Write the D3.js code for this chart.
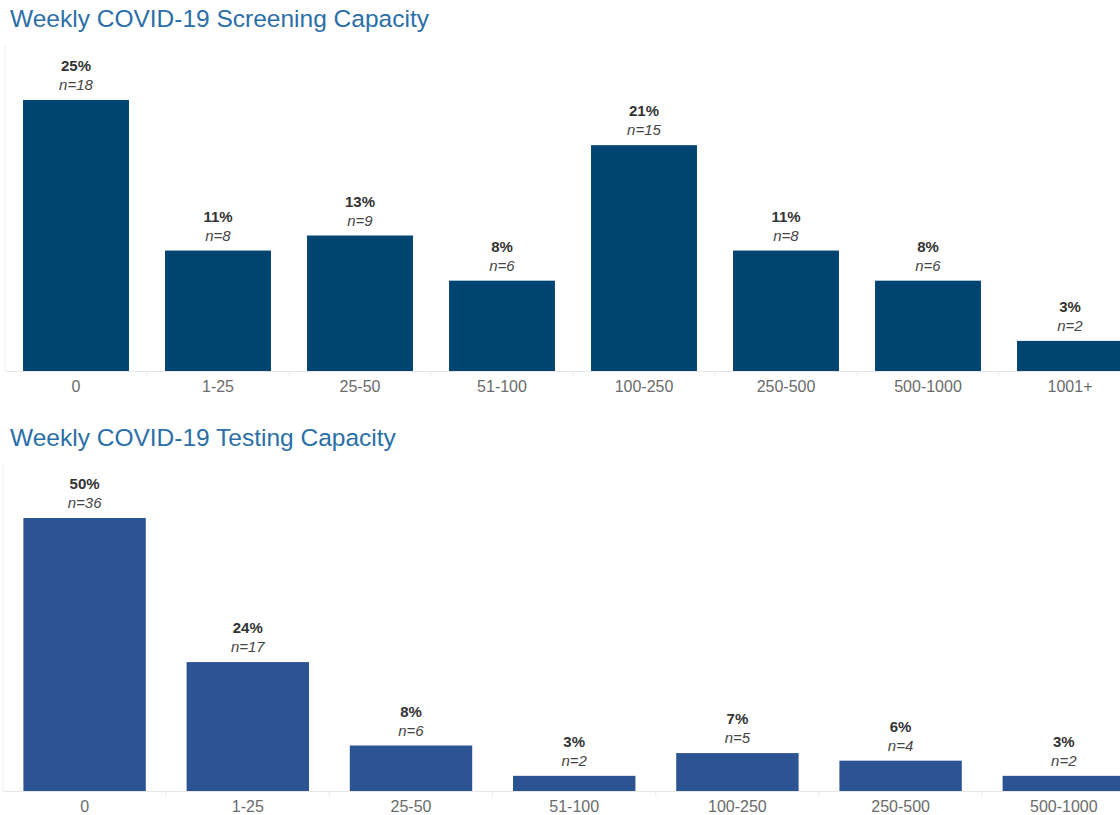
<!DOCTYPE html>
<html>
<head>
<meta charset="utf-8">
<script src="https://cdn.jsdelivr.net/npm/d3@7"></script>
<style>
  body { margin: 0; background: #fff; }
  svg { display: block; font-family: "Liberation Sans", Arial, sans-serif; }
</style>
</head>
<body>
<div id="chart"></div>
<script>
const screenCats = ['0', '1-25', '25-50', '51-100', '100-250', '250-500', '500-1000', '1001+']
const screenPct = [25, 11, 13, 8, 21, 11, 8, 3]
const screenN = [18, 8, 9, 6, 15, 8, 6, 2]

const testCats = ['0', '1-25', '25-50', '51-100', '100-250', '250-500', '500-1000']
const testPct = [50, 24, 8, 3, 7, 6, 3]
const testN = [36, 17, 6, 2, 5, 4, 2]

const width = 1120
const height = 815

const svg = d3.select('#chart')
    .append('svg')
    .attr('width', width)
    .attr('height', height)

const drawPanel = (cfg) => {
    const data = cfg.cats.map((c, i) => ({ cat: c, pct: cfg.pct[i], n: cfg.n[i] }))

    const g = svg.append('g')

    g.append('text')
        .attr('x', 10)
        .attr('y', cfg.titleY)
        .attr('fill', '#2b6fa8')
        .style('font-size', '24.5px')
        .text(cfg.title)

    const x = d3.scaleBand()
        .domain(cfg.cats)
        .range([cfg.x0, cfg.x0 + cfg.step * cfg.cats.length])
        .paddingInner(cfg.pad)
        .paddingOuter(cfg.pad / 2)

    const y = d3.scaleLinear()
        .domain([0, cfg.nMax])
        .range([cfg.base, cfg.top])

    // faint left axis line
    g.append('line')
        .attr('x1', cfg.x0).attr('x2', cfg.x0)
        .attr('y1', cfg.axisTop).attr('y2', cfg.base)
        .attr('stroke', '#eeeeee')

    const axis = g.append('g')
        .attr('transform', `translate(0,${cfg.base})`)
        .call(d3.axisBottom(x).tickSize(0).tickPadding(10))
    axis.select('.domain').attr('stroke', '#e6e6e6')
    axis.selectAll('text')
        .attr('fill', '#6b6b6b')
        .style('font-size', '16px')
        .style('font-family', '"Liberation Sans", Arial, sans-serif')

    // separators between categories
    g.selectAll('.sep')
        .data(cfg.cats.slice(1))
        .join('line')
        .attr('x1', (d) => x(d) - x.step() * x.paddingInner() / 2)
        .attr('x2', (d) => x(d) - x.step() * x.paddingInner() / 2)
        .attr('y1', cfg.base)
        .attr('y2', cfg.base + 5)
        .attr('stroke', '#e6e6e6')

    g.selectAll('rect')
        .data(data)
        .join('rect')
        .attr('x', (d) => x(d.cat))
        .attr('width', x.bandwidth())
        .attr('y', (d) => y(d.n))
        .attr('height', (d) => cfg.base - y(d.n))
        .attr('fill', cfg.color)

    g.selectAll('.pct')
        .data(data)
        .join('text')
        .attr('x', (d) => x(d.cat) + x.bandwidth() / 2)
        .attr('y', (d) => y(d.n) - 29)
        .attr('text-anchor', 'middle')
        .attr('fill', '#333')
        .style('font-size', '15px')
        .style('font-weight', 'bold')
        .text((d) => d.pct + '%')

    g.selectAll('.nlab')
        .data(data)
        .join('text')
        .attr('x', (d) => x(d.cat) + x.bandwidth() / 2)
        .attr('y', (d) => y(d.n) - 10)
        .attr('text-anchor', 'middle')
        .attr('fill', '#444')
        .style('font-size', '15px')
        .style('font-style', 'italic')
        .text((d) => 'n=' + d.n)
}

drawPanel({
    title: 'Weekly COVID-19 Screening Capacity',
    titleY: 27,
    cats: screenCats, pct: screenPct, n: screenN,
    x0: 5, step: 142, pad: 0.254,
    nMax: 18, base: 371, top: 100, axisTop: 45,
    color: '#004571'
})

drawPanel({
    title: 'Weekly COVID-19 Testing Capacity',
    titleY: 446,
    cats: testCats, pct: testPct, n: testN,
    x0: 3, step: 163.2, pad: 0.25,
    nMax: 36, base: 791, top: 518, axisTop: 465,
    color: '#2c5392'
})
</script>
</body>
</html>
